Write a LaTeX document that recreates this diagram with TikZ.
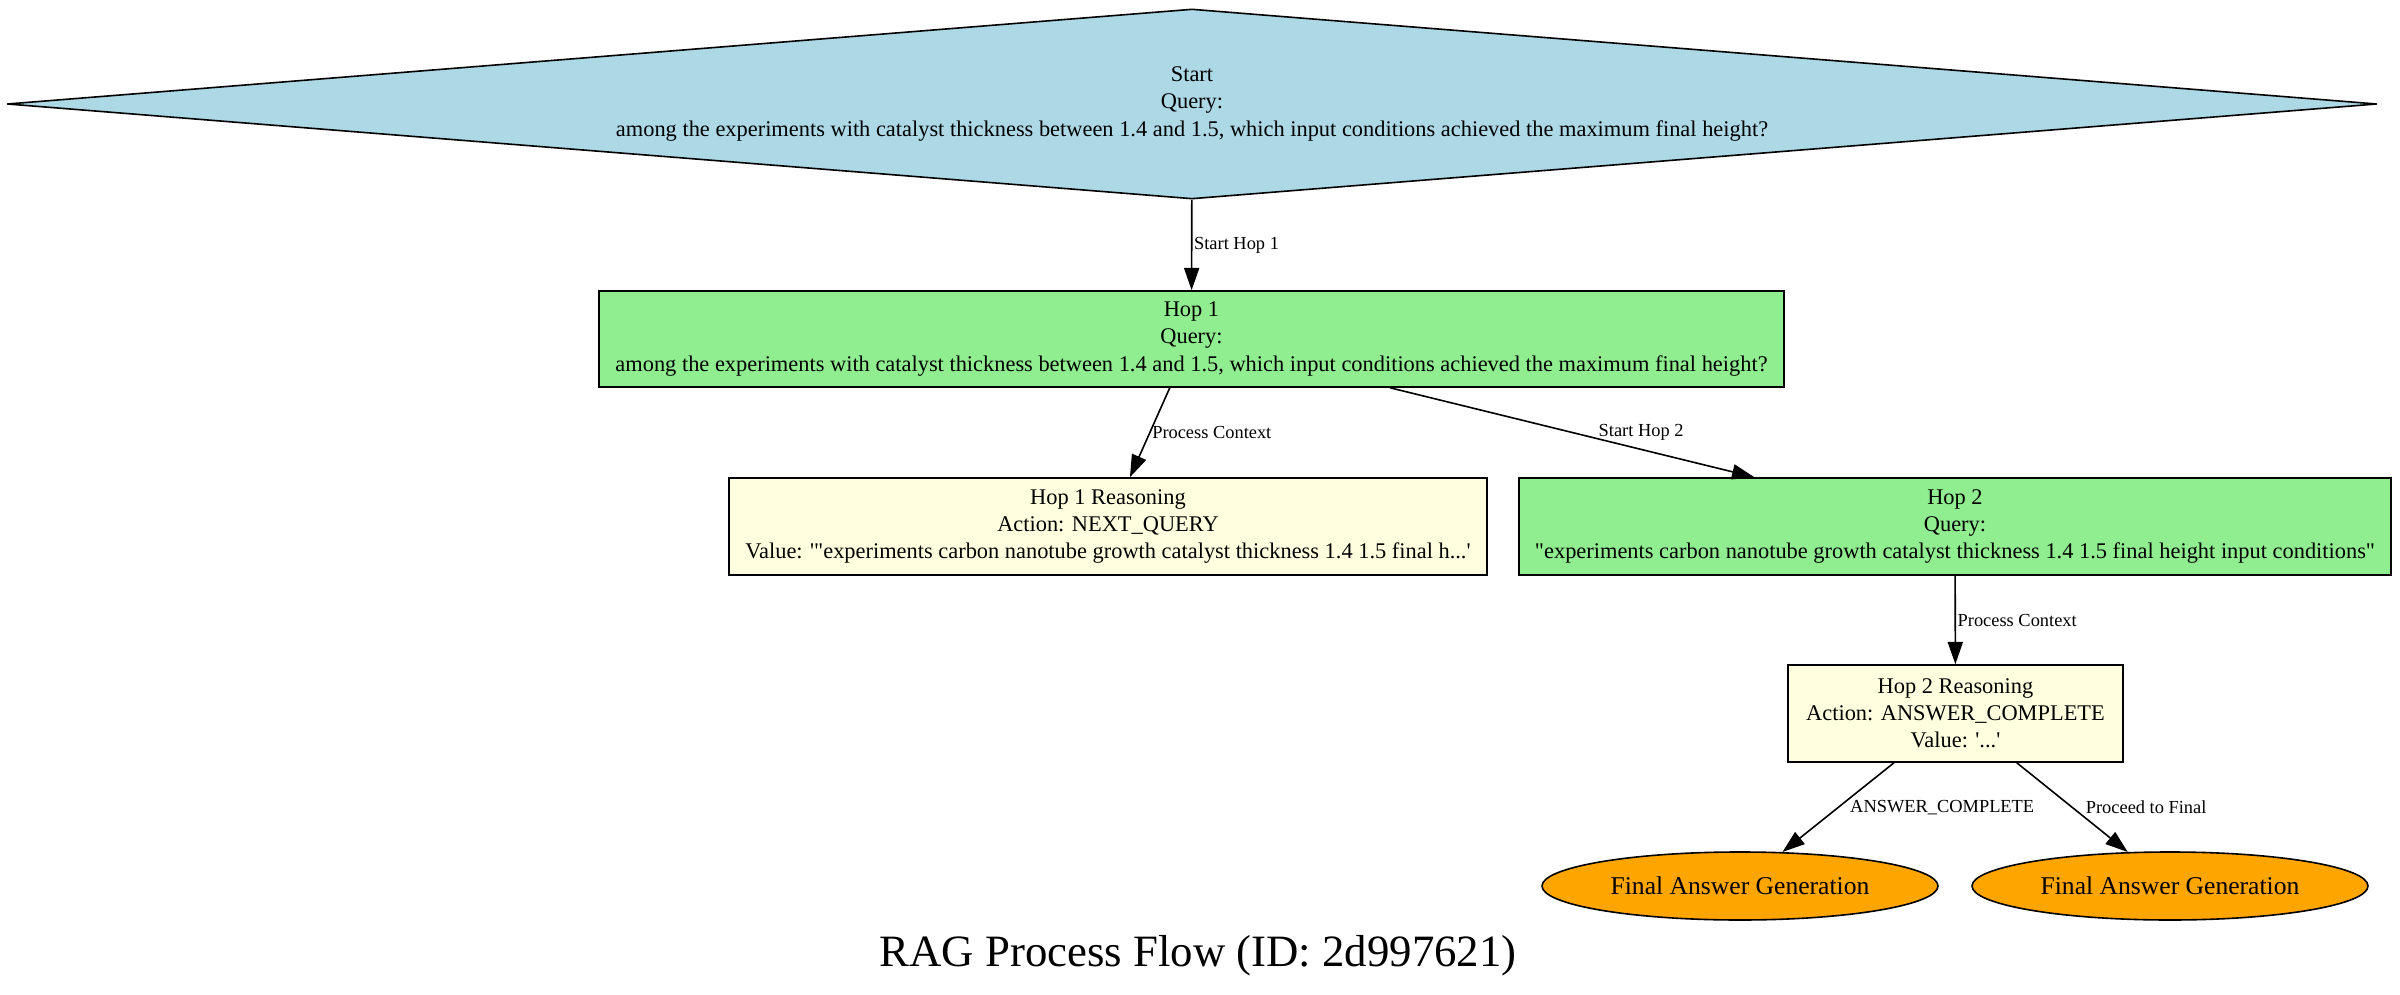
\documentclass[tikz,border=0pt]{standalone}
\usepackage{fontspec}
\setmainfont{Liberation Serif}
\usetikzlibrary{shapes.geometric,arrows.meta}
\definecolor{queryblue}{HTML}{ADD8E6}
\definecolor{hopgreen}{HTML}{90EE90}
\definecolor{reasonyellow}{HTML}{FFFFE0}
\definecolor{finalorange}{HTML}{FFA500}
\begin{document}
\begin{tikzpicture}[x=0.625pt,y=-0.625pt,
		box/.style={draw,line width=1pt,inner sep=0pt,align=center,font=\fontsize{14}{16.9}\selectfont},
		flow/.style={line width=1pt,-{Triangle[length=14pt,width=9.5pt]}},
		lbl/.style={anchor=west,inner sep=1pt,font=\fontsize{11.5}{13}\selectfont}]
			\useasboundingbox (0,0) rectangle (2400,995);
			\node[box,diamond,aspect=12.47,fill=queryblue,line join=round,minimum width=1481pt,minimum height=118.75pt] (start) at (1192,104) {Start\\Query:\\among the experiments with catalyst thickness between 1.4 and 1.5, which input conditions achieved the maximum final height?};
			\node[box,fill=hopgreen,minimum width=740.6pt,minimum height=60pt] (hop1) at (1191.5,339) {Hop 1\\Query:\\among the experiments with catalyst thickness between 1.4 and 1.5, which input conditions achieved the maximum final height?};
			\node[box,fill=reasonyellow,minimum width=473.75pt,minimum height=60.6pt] (hop1r) at (1108,526.5) {Hop 1 Reasoning\\Action: NEXT\_QUERY\\Value: \textquotesingle\textquotedbl experiments carbon nanotube growth catalyst thickness 1.4 1.5 final h...\textquotesingle};
			\node[box,fill=hopgreen,minimum width=545pt,minimum height=60.6pt] (hop2) at (1955,526.5) {Hop 2\\Query:\\\textquotedbl experiments carbon nanotube growth catalyst thickness 1.4 1.5 final height input conditions\textquotedbl};
			\node[box,fill=reasonyellow,minimum width=209.4pt,minimum height=60.6pt] (hop2r) at (1955.5,713.5) {Hop 2 Reasoning\\Action: ANSWER\_COMPLETE\\Value: \textquotesingle...\textquotesingle};
			\node[box,ellipse,fill=finalorange,minimum width=247.5pt,minimum height=42.5pt,font=\fontsize{16}{19}\selectfont] (finala) at (1740,886) {Final Answer Generation};
			\node[box,ellipse,fill=finalorange,minimum width=247.5pt,minimum height=42.5pt,font=\fontsize{16}{19}\selectfont] (finalb) at (2170,886) {Final Answer Generation};
			\node[anchor=base,inner sep=0pt,font=\fontsize{28}{32}\selectfont] (title) at (1198,966) {RAG Process Flow (ID: 2d997621)};
			\draw[flow] (start) -- node[lbl]{Start Hop 1} (hop1);
			\draw[flow] (hop1) -- node[lbl]{Process Context} (hop1r);
			\draw[flow] (hop1) -- node[lbl,xshift=15pt]{Start Hop 2} (hop2);
			\draw[flow] (hop2) -- node[lbl]{Process Context} (hop2r);
			\draw[flow] (hop2r) -- node[lbl,xshift=6pt]{ANSWER\_COMPLETE} (finala);
			\draw[flow] (hop2r) -- node[lbl,xshift=7pt]{Proceed to Final} (finalb);
\end{tikzpicture}
\end{document}
